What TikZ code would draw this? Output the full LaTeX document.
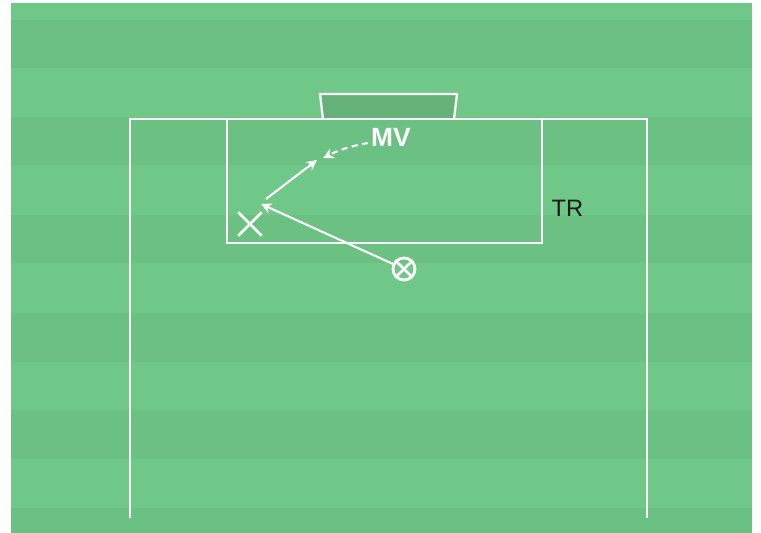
\documentclass[tikz,border=0pt]{standalone}
\usepackage{fontspec}
\setmainfont{Liberation Sans}
\usetikzlibrary{shapes.misc,arrows.meta}
\definecolor{pitchlight}{RGB}{111,199,136}
\definecolor{pitchdark}{RGB}{106,193,130}
\definecolor{goalfill}{RGB}{101,178,121}
\tikzset{
  pitchline/.style={draw=white, line width=1.3pt},
  runline/.style={white, line width=1.2pt, ->},
}
\begin{document}
\begin{tikzpicture}[x=0.02cm,y=-0.02cm,>={Stealth[length=6pt,width=6pt]}]
\useasboundingbox (0,0) rectangle (761,533);
\fill[pitchlight] (11,3) rectangle (752,533);
\foreach \ya/\yb in {20/68,117/165,215/263,313/362,410/459,508/533}
  \fill[pitchdark] (11,\ya) rectangle (752,\yb);
\fill[goalfill] (323,119) -- (320,94) -- (457,94) -- (454,119) -- cycle;
\draw[pitchline] (323,119) -- (320,94) -- (457,94) -- (454,119);
\draw[pitchline] (130,518) -- (130,119) -- (647,119) -- (647,518);
\draw[pitchline] (227,119) rectangle (542,243);
\node[cross out, draw=white, line width=1.5pt, inner sep=0pt, minimum size=0.42cm] (player) at (250,224) {};
\node[circle, draw=white, line width=1.6pt, inner sep=0pt, minimum size=0.44cm] (ball) at (404,269) {};
\draw[white, line width=1.6pt] (ball.45) -- (ball.225) (ball.135) -- (ball.315);
\node[white, font=\bfseries\fontsize{15}{17}\selectfont] (mv) at (391,137.5) {MV};
\node[black!90, font=\fontsize{13.5}{16}\selectfont] (tr) at (567.5,208.5) {TR};
\coordinate (pass) at (261,204);
\coordinate (runstart) at (266,199);
\coordinate (runend) at (317,160);
\coordinate (mvstart) at (368,143);
\coordinate (mvend) at (323,158);
\draw[runline] (ball) -- (pass);
\draw[runline] (runstart) -- (runend);
\draw[runline, dash pattern=on 3.5pt off 2.5pt] (mvstart) to[bend right=8] (mvend);
\end{tikzpicture}
\end{document}
